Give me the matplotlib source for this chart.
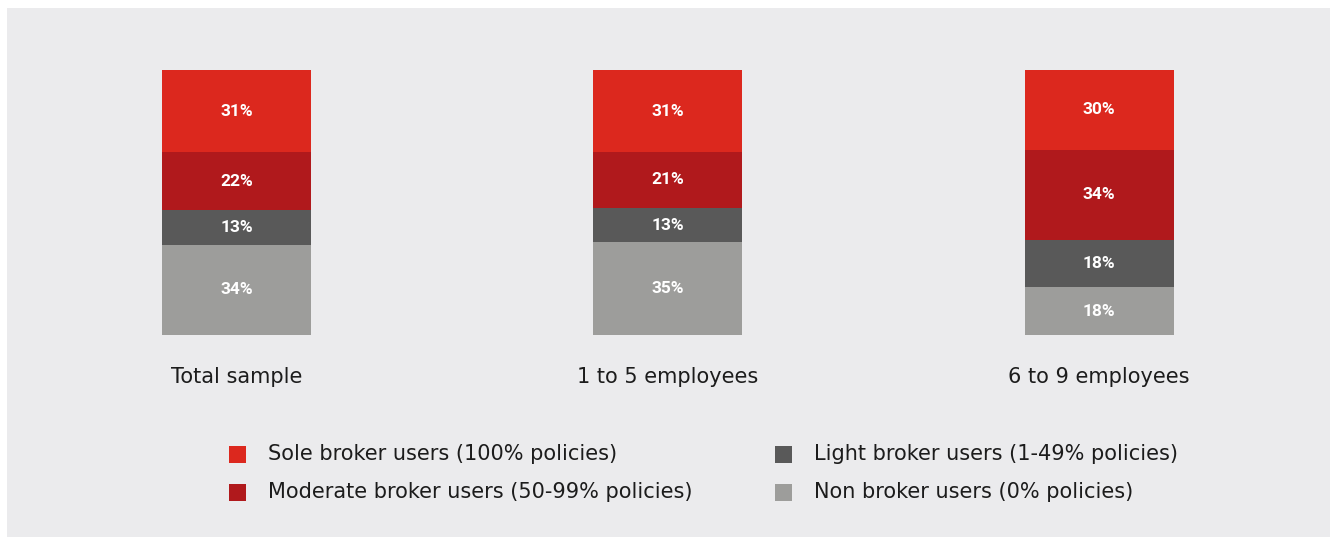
import matplotlib.pyplot as plt
from matplotlib.patches import Rectangle

# -------------------------
# Data
# -------------------------
categories = ["Total sample", "1 to 5 employees", "6 to 9 employees"]
series_names = [
    "Non broker users (0% policies)",
    "Light broker users (1-49% policies)",
    "Moderate broker users (50-99% policies)",
    "Sole broker users (100% policies)",
]
non_broker = [34, 35, 18]
light_broker = [13, 13, 18]
moderate_broker = [22, 21, 34]
sole_broker = [31, 31, 30]

series_values = [non_broker, light_broker, moderate_broker, sole_broker]
colors = ["#9d9d9b", "#595959", "#b0191c", "#dc281e"]

W, H = 1337, 537
bg = "#ebebed"
text_col = "#1c1c1c"
label_font = "DejaVu Sans"
label_size = 15

fig = plt.figure(figsize=(W / 100, H / 100), dpi=100)
fig.patch.set_facecolor("white")

# grey panel behind everything
fig.patches.append(Rectangle((7 / W, 1 - 537 / H), (1330 - 7) / W, (537 - 8) / H,
                             transform=fig.transFigure, facecolor=bg,
                             edgecolor="none", zorder=-10))

# axes: x in category units, y in percent
px_unit = 431.25
c0 = 236.5
x_left, x_right = 7, 1330
y_top_px, y_bot_px = 70, 335
ax = fig.add_axes([x_left / W, 1 - y_bot_px / H, (x_right - x_left) / W,
                   (y_bot_px - y_top_px) / H])
ax.set_zorder(5)
ax.set_xlim((x_left - c0) / px_unit, (x_right - c0) / px_unit)
ax.set_ylim(0, 100)
ax.set_facecolor("none")
ax.axis("off")

bar_width = 149 / px_unit
x = list(range(len(categories)))
bottoms = [0] * len(categories)
for vals, col in zip(series_values, colors):
    ax.bar(x, vals, width=bar_width, bottom=bottoms, color=col, linewidth=0)
    for xi, v, b in zip(x, vals, bottoms):
        ax.text(xi, b + v / 2, f"{v}%", ha="center", va="center",
                color="white", fontsize=12.5, fontweight="bold",
                family="Roboto")
    bottoms = [b + v for b, v in zip(bottoms, vals)]

for xi, cat in zip(x, categories):
    ax.text(xi, -15.8, cat, ha="center", va="center", fontsize=label_size,
            color=text_col, family=label_font, clip_on=False)

# legend (manual layout)
legend_order = [3, 1, 2, 0]
legend_pos = [(229, 454), (775, 454), (229, 492), (775, 492)]
sq = 17
for idx, (lx, ly) in zip(legend_order, legend_pos):
    fig.patches.append(Rectangle((lx / W, 1 - (ly + sq / 2) / H), sq / W, sq / H,
                                 transform=fig.transFigure,
                                 facecolor=colors[idx], edgecolor="none"))
    fig.text((lx + 39) / W, 1 - ly / H, series_names[idx], ha="left",
             va="center", fontsize=label_size, color=text_col, family=label_font)

fig.savefig("out.png", dpi=100, facecolor="white")
